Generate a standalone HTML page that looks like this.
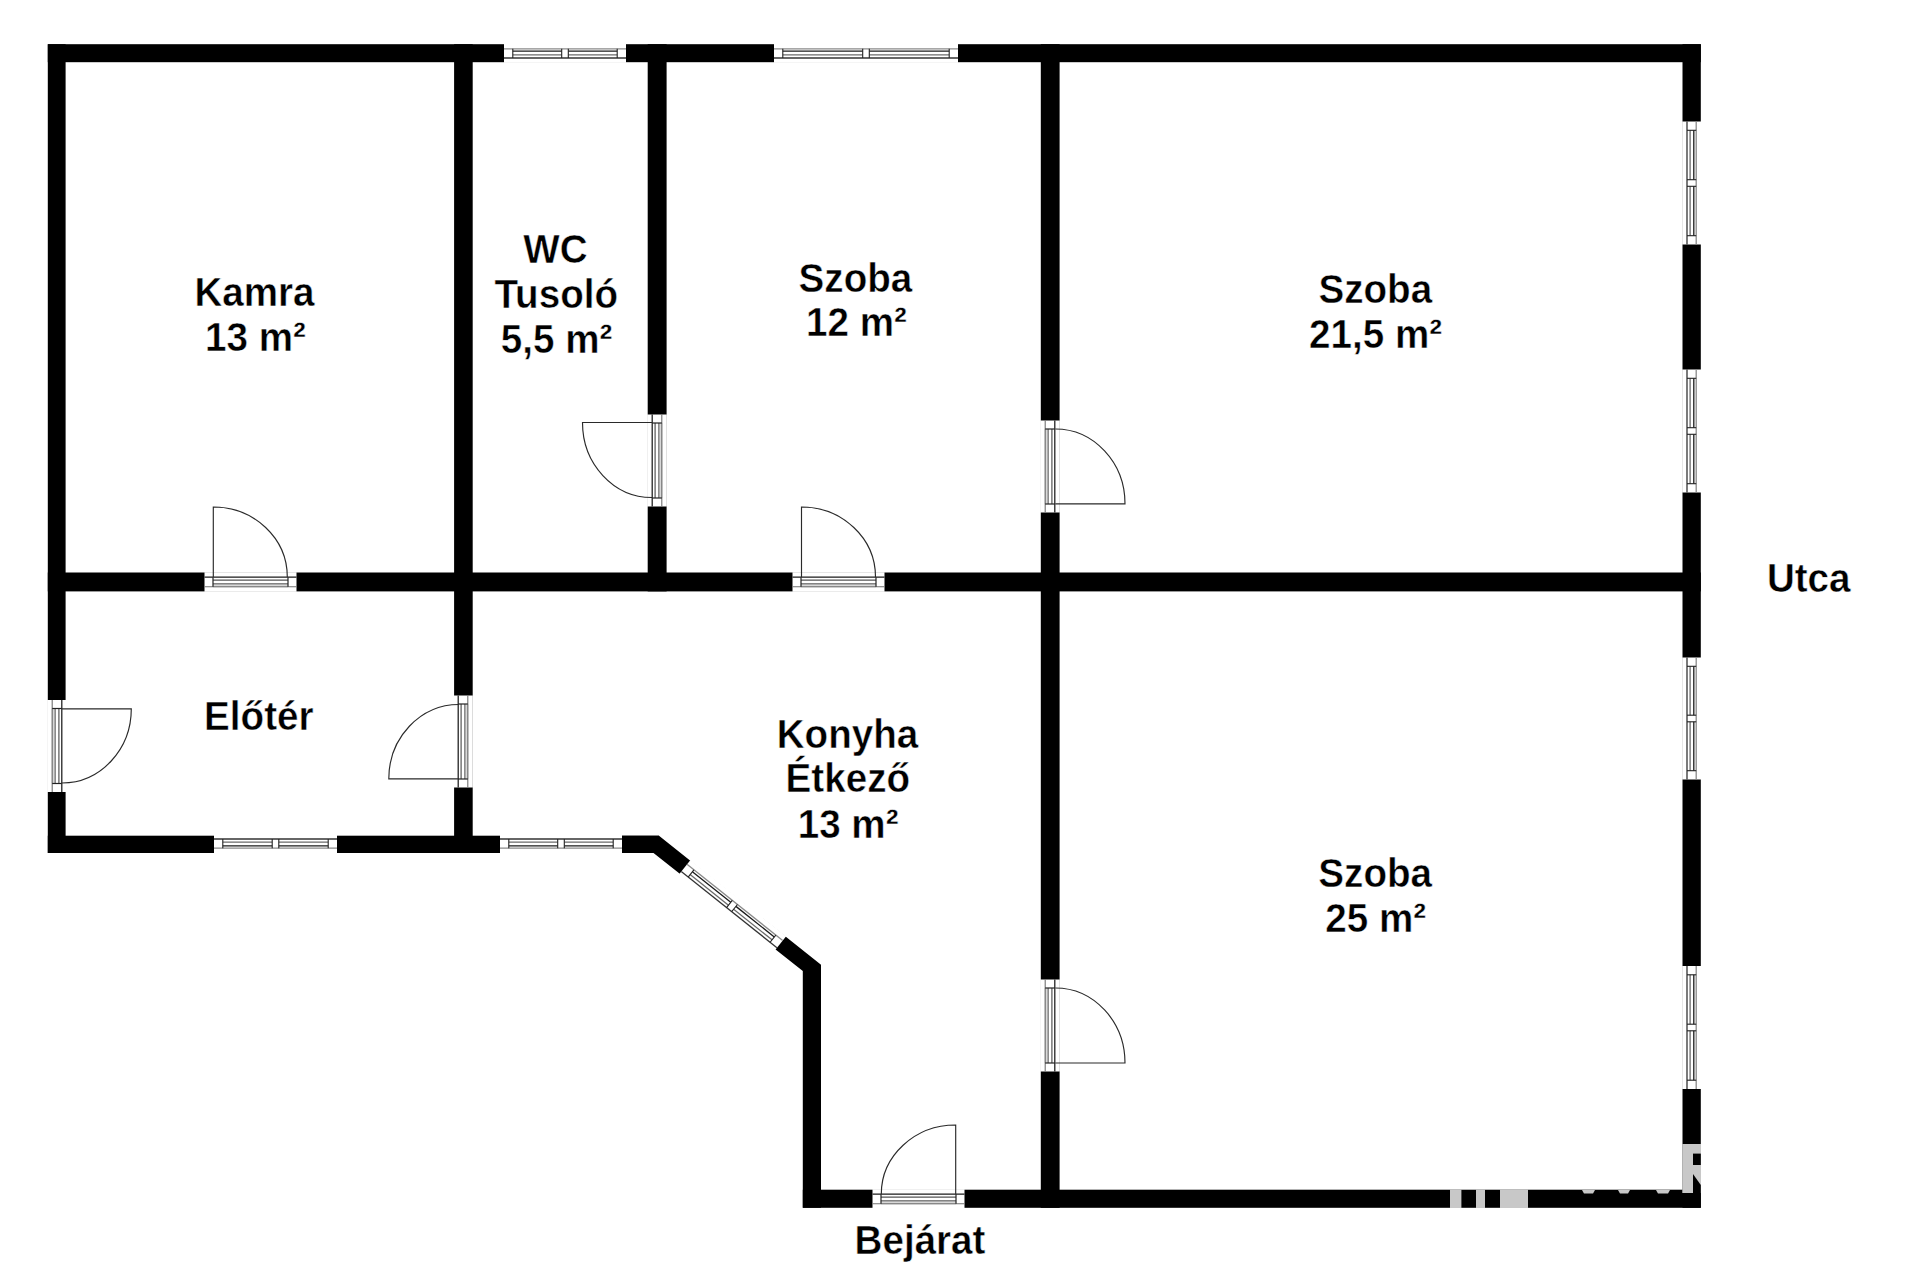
<!DOCTYPE html>
<html><head><meta charset="utf-8"><title>Alaprajz</title>
<style>
html,body{margin:0;padding:0;background:#fff;width:1920px;height:1280px;overflow:hidden}
svg{display:block}
text{font-family:"Liberation Sans",sans-serif;font-weight:bold;font-size:39px;fill:#000;text-anchor:middle;stroke:#fff;stroke-width:0.45px;paint-order:normal}
</style></head><body>
<svg width="1920" height="1280" viewBox="0 0 1920 1280">
<rect width="1920" height="1280" fill="#fff"/>
<rect x="47.8" y="44.2" width="1653" height="18" fill="#000"/><rect x="1682.5" y="44.2" width="18.3" height="1163.6" fill="#000"/><rect x="47.8" y="44.2" width="17.8" height="808.8" fill="#000"/><rect x="47.8" y="835.7" width="611.2" height="17.3" fill="#000"/><polygon points="622,835.7 659,835.7 821,964.8 821,1207.8 802.8,1207.8 802.8,971 653.5,853 622,853" fill="#000"/><rect x="802.8" y="1189.7" width="898" height="18.1" fill="#000"/><rect x="454.1" y="44.2" width="18.6" height="808.8" fill="#000"/><rect x="647.7" y="44.2" width="18.9" height="547.2" fill="#000"/><rect x="1040.8" y="44.2" width="18.8" height="1163.6" fill="#000"/><rect x="47.8" y="572.5" width="1653" height="18.9" fill="#000"/><g transform="matrix(1,0,0,1,504,44)"><rect x="0" y="-0.8" width="122" height="19.6" fill="#fff"/><line x1="0" y1="4.8" x2="122" y2="4.8" stroke="#8a8a8a" stroke-width="1.3"/><line x1="0" y1="14.0" x2="122" y2="14.0" stroke="#333" stroke-width="1.3"/><line x1="8.8" y1="7.2" x2="57.7" y2="7.2" stroke="#1a1a1a" stroke-width="1.3"/><line x1="8.8" y1="10.9" x2="57.7" y2="10.9" stroke="#6a6a6a" stroke-width="1.3"/><line x1="8.8" y1="4.8" x2="8.8" y2="14.0" stroke="#222" stroke-width="1.1"/><line x1="57.7" y1="4.8" x2="57.7" y2="14.0" stroke="#222" stroke-width="1.1"/><line x1="64.3" y1="7.2" x2="113.2" y2="7.2" stroke="#1a1a1a" stroke-width="1.3"/><line x1="64.3" y1="10.9" x2="113.2" y2="10.9" stroke="#6a6a6a" stroke-width="1.3"/><line x1="64.3" y1="4.8" x2="64.3" y2="14.0" stroke="#222" stroke-width="1.1"/><line x1="113.2" y1="4.8" x2="113.2" y2="14.0" stroke="#222" stroke-width="1.1"/></g><g transform="matrix(1,0,0,1,774,44)"><rect x="0" y="-0.8" width="184" height="19.6" fill="#fff"/><line x1="0" y1="4.8" x2="184" y2="4.8" stroke="#8a8a8a" stroke-width="1.3"/><line x1="0" y1="14.0" x2="184" y2="14.0" stroke="#333" stroke-width="1.3"/><line x1="8.8" y1="7.2" x2="88.7" y2="7.2" stroke="#1a1a1a" stroke-width="1.3"/><line x1="8.8" y1="10.9" x2="88.7" y2="10.9" stroke="#6a6a6a" stroke-width="1.3"/><line x1="8.8" y1="4.8" x2="8.8" y2="14.0" stroke="#222" stroke-width="1.1"/><line x1="88.7" y1="4.8" x2="88.7" y2="14.0" stroke="#222" stroke-width="1.1"/><line x1="95.3" y1="7.2" x2="175.2" y2="7.2" stroke="#1a1a1a" stroke-width="1.3"/><line x1="95.3" y1="10.9" x2="175.2" y2="10.9" stroke="#6a6a6a" stroke-width="1.3"/><line x1="95.3" y1="4.8" x2="95.3" y2="14.0" stroke="#222" stroke-width="1.1"/><line x1="175.2" y1="4.8" x2="175.2" y2="14.0" stroke="#222" stroke-width="1.1"/></g><g transform="matrix(1,0,0,-1,214,853)"><rect x="0" y="-0.8" width="123" height="19.6" fill="#fff"/><line x1="0" y1="4.8" x2="123" y2="4.8" stroke="#8a8a8a" stroke-width="1.3"/><line x1="0" y1="14.0" x2="123" y2="14.0" stroke="#333" stroke-width="1.3"/><line x1="8.8" y1="7.2" x2="58.2" y2="7.2" stroke="#1a1a1a" stroke-width="1.3"/><line x1="8.8" y1="10.9" x2="58.2" y2="10.9" stroke="#6a6a6a" stroke-width="1.3"/><line x1="8.8" y1="4.8" x2="8.8" y2="14.0" stroke="#222" stroke-width="1.1"/><line x1="58.2" y1="4.8" x2="58.2" y2="14.0" stroke="#222" stroke-width="1.1"/><line x1="64.8" y1="7.2" x2="114.2" y2="7.2" stroke="#1a1a1a" stroke-width="1.3"/><line x1="64.8" y1="10.9" x2="114.2" y2="10.9" stroke="#6a6a6a" stroke-width="1.3"/><line x1="64.8" y1="4.8" x2="64.8" y2="14.0" stroke="#222" stroke-width="1.1"/><line x1="114.2" y1="4.8" x2="114.2" y2="14.0" stroke="#222" stroke-width="1.1"/></g><g transform="matrix(1,0,0,-1,500,853)"><rect x="0" y="-0.8" width="122" height="19.6" fill="#fff"/><line x1="0" y1="4.8" x2="122" y2="4.8" stroke="#8a8a8a" stroke-width="1.3"/><line x1="0" y1="14.0" x2="122" y2="14.0" stroke="#333" stroke-width="1.3"/><line x1="8.8" y1="7.2" x2="57.7" y2="7.2" stroke="#1a1a1a" stroke-width="1.3"/><line x1="8.8" y1="10.9" x2="57.7" y2="10.9" stroke="#6a6a6a" stroke-width="1.3"/><line x1="8.8" y1="4.8" x2="8.8" y2="14.0" stroke="#222" stroke-width="1.1"/><line x1="57.7" y1="4.8" x2="57.7" y2="14.0" stroke="#222" stroke-width="1.1"/><line x1="64.3" y1="7.2" x2="113.2" y2="7.2" stroke="#1a1a1a" stroke-width="1.3"/><line x1="64.3" y1="10.9" x2="113.2" y2="10.9" stroke="#6a6a6a" stroke-width="1.3"/><line x1="64.3" y1="4.8" x2="64.3" y2="14.0" stroke="#222" stroke-width="1.1"/><line x1="113.2" y1="4.8" x2="113.2" y2="14.0" stroke="#222" stroke-width="1.1"/></g><g transform="matrix(0,1,-1,0,1701,121.5)"><rect x="0" y="-0.8" width="123" height="19.6" fill="#fff"/><line x1="0" y1="4.8" x2="123" y2="4.8" stroke="#8a8a8a" stroke-width="1.3"/><line x1="0" y1="14.0" x2="123" y2="14.0" stroke="#333" stroke-width="1.3"/><line x1="8.8" y1="7.2" x2="58.2" y2="7.2" stroke="#1a1a1a" stroke-width="1.3"/><line x1="8.8" y1="10.9" x2="58.2" y2="10.9" stroke="#6a6a6a" stroke-width="1.3"/><line x1="8.8" y1="4.8" x2="8.8" y2="14.0" stroke="#222" stroke-width="1.1"/><line x1="58.2" y1="4.8" x2="58.2" y2="14.0" stroke="#222" stroke-width="1.1"/><line x1="64.8" y1="7.2" x2="114.2" y2="7.2" stroke="#1a1a1a" stroke-width="1.3"/><line x1="64.8" y1="10.9" x2="114.2" y2="10.9" stroke="#6a6a6a" stroke-width="1.3"/><line x1="64.8" y1="4.8" x2="64.8" y2="14.0" stroke="#222" stroke-width="1.1"/><line x1="114.2" y1="4.8" x2="114.2" y2="14.0" stroke="#222" stroke-width="1.1"/></g><g transform="matrix(0,1,-1,0,1701,369.5)"><rect x="0" y="-0.8" width="123" height="19.6" fill="#fff"/><line x1="0" y1="4.8" x2="123" y2="4.8" stroke="#8a8a8a" stroke-width="1.3"/><line x1="0" y1="14.0" x2="123" y2="14.0" stroke="#333" stroke-width="1.3"/><line x1="8.8" y1="7.2" x2="58.2" y2="7.2" stroke="#1a1a1a" stroke-width="1.3"/><line x1="8.8" y1="10.9" x2="58.2" y2="10.9" stroke="#6a6a6a" stroke-width="1.3"/><line x1="8.8" y1="4.8" x2="8.8" y2="14.0" stroke="#222" stroke-width="1.1"/><line x1="58.2" y1="4.8" x2="58.2" y2="14.0" stroke="#222" stroke-width="1.1"/><line x1="64.8" y1="7.2" x2="114.2" y2="7.2" stroke="#1a1a1a" stroke-width="1.3"/><line x1="64.8" y1="10.9" x2="114.2" y2="10.9" stroke="#6a6a6a" stroke-width="1.3"/><line x1="64.8" y1="4.8" x2="64.8" y2="14.0" stroke="#222" stroke-width="1.1"/><line x1="114.2" y1="4.8" x2="114.2" y2="14.0" stroke="#222" stroke-width="1.1"/></g><g transform="matrix(0,1,-1,0,1701,657.5)"><rect x="0" y="-0.8" width="122" height="19.6" fill="#fff"/><line x1="0" y1="4.8" x2="122" y2="4.8" stroke="#8a8a8a" stroke-width="1.3"/><line x1="0" y1="14.0" x2="122" y2="14.0" stroke="#333" stroke-width="1.3"/><line x1="8.8" y1="7.2" x2="57.7" y2="7.2" stroke="#1a1a1a" stroke-width="1.3"/><line x1="8.8" y1="10.9" x2="57.7" y2="10.9" stroke="#6a6a6a" stroke-width="1.3"/><line x1="8.8" y1="4.8" x2="8.8" y2="14.0" stroke="#222" stroke-width="1.1"/><line x1="57.7" y1="4.8" x2="57.7" y2="14.0" stroke="#222" stroke-width="1.1"/><line x1="64.3" y1="7.2" x2="113.2" y2="7.2" stroke="#1a1a1a" stroke-width="1.3"/><line x1="64.3" y1="10.9" x2="113.2" y2="10.9" stroke="#6a6a6a" stroke-width="1.3"/><line x1="64.3" y1="4.8" x2="64.3" y2="14.0" stroke="#222" stroke-width="1.1"/><line x1="113.2" y1="4.8" x2="113.2" y2="14.0" stroke="#222" stroke-width="1.1"/></g><g transform="matrix(0,1,-1,0,1701,966)"><rect x="0" y="-0.8" width="123" height="19.6" fill="#fff"/><line x1="0" y1="4.8" x2="123" y2="4.8" stroke="#8a8a8a" stroke-width="1.3"/><line x1="0" y1="14.0" x2="123" y2="14.0" stroke="#333" stroke-width="1.3"/><line x1="8.8" y1="7.2" x2="58.2" y2="7.2" stroke="#1a1a1a" stroke-width="1.3"/><line x1="8.8" y1="10.9" x2="58.2" y2="10.9" stroke="#6a6a6a" stroke-width="1.3"/><line x1="8.8" y1="4.8" x2="8.8" y2="14.0" stroke="#222" stroke-width="1.1"/><line x1="58.2" y1="4.8" x2="58.2" y2="14.0" stroke="#222" stroke-width="1.1"/><line x1="64.8" y1="7.2" x2="114.2" y2="7.2" stroke="#1a1a1a" stroke-width="1.3"/><line x1="64.8" y1="10.9" x2="114.2" y2="10.9" stroke="#6a6a6a" stroke-width="1.3"/><line x1="64.8" y1="4.8" x2="64.8" y2="14.0" stroke="#222" stroke-width="1.1"/><line x1="114.2" y1="4.8" x2="114.2" y2="14.0" stroke="#222" stroke-width="1.1"/></g><g transform="matrix(0.78228,0.622927,-0.622927,0.78228,690,860.6)"><rect x="0" y="-0.8" width="122.3" height="18.6" fill="#fff"/><line x1="0" y1="4.8" x2="122.3" y2="4.8" stroke="#8a8a8a" stroke-width="1.3"/><line x1="0" y1="14.0" x2="122.3" y2="14.0" stroke="#333" stroke-width="1.3"/><line x1="8.8" y1="7.2" x2="57.85" y2="7.2" stroke="#1a1a1a" stroke-width="1.3"/><line x1="8.8" y1="10.9" x2="57.85" y2="10.9" stroke="#6a6a6a" stroke-width="1.3"/><line x1="8.8" y1="4.8" x2="8.8" y2="14.0" stroke="#222" stroke-width="1.1"/><line x1="57.85" y1="4.8" x2="57.85" y2="14.0" stroke="#222" stroke-width="1.1"/><line x1="64.45" y1="7.2" x2="113.5" y2="7.2" stroke="#1a1a1a" stroke-width="1.3"/><line x1="64.45" y1="10.9" x2="113.5" y2="10.9" stroke="#6a6a6a" stroke-width="1.3"/><line x1="64.45" y1="4.8" x2="64.45" y2="14.0" stroke="#222" stroke-width="1.1"/><line x1="113.5" y1="4.8" x2="113.5" y2="14.0" stroke="#222" stroke-width="1.1"/></g><g transform="matrix(1,0,0,1,204.5,573)"><rect x="0" y="-0.8" width="92" height="19.6" fill="#fff"/><rect x="8.5" y="12.2" width="75" height="2.2" fill="#cfcfcf"/><line x1="0" y1="4.2" x2="92" y2="4.2" stroke="#1a1a1a" stroke-width="1.25"/><line x1="0" y1="13.8" x2="92" y2="13.8" stroke="#707070" stroke-width="1.1"/><line x1="8.5" y1="7.1" x2="83.5" y2="7.1" stroke="#555" stroke-width="1.2"/><line x1="8.5" y1="10.9" x2="83.5" y2="10.9" stroke="#5a5a5a" stroke-width="1.2"/><line x1="8.5" y1="4.2" x2="8.5" y2="13.8" stroke="#222" stroke-width="1.2"/><line x1="83.5" y1="4.2" x2="83.5" y2="13.8" stroke="#222" stroke-width="1.2"/></g><g transform="matrix(1,0,0,1,792.5,573)"><rect x="0" y="-0.8" width="92" height="19.6" fill="#fff"/><rect x="8.5" y="12.2" width="75" height="2.2" fill="#cfcfcf"/><line x1="0" y1="4.2" x2="92" y2="4.2" stroke="#1a1a1a" stroke-width="1.25"/><line x1="0" y1="13.8" x2="92" y2="13.8" stroke="#707070" stroke-width="1.1"/><line x1="8.5" y1="7.1" x2="83.5" y2="7.1" stroke="#555" stroke-width="1.2"/><line x1="8.5" y1="10.9" x2="83.5" y2="10.9" stroke="#5a5a5a" stroke-width="1.2"/><line x1="8.5" y1="4.2" x2="8.5" y2="13.8" stroke="#222" stroke-width="1.2"/><line x1="83.5" y1="4.2" x2="83.5" y2="13.8" stroke="#222" stroke-width="1.2"/></g><g transform="matrix(1,0,0,1,872.5,1190)"><rect x="0" y="-0.8" width="92" height="19.6" fill="#fff"/><rect x="8.5" y="12.2" width="75" height="2.2" fill="#cfcfcf"/><line x1="0" y1="4.2" x2="92" y2="4.2" stroke="#1a1a1a" stroke-width="1.25"/><line x1="0" y1="13.8" x2="92" y2="13.8" stroke="#707070" stroke-width="1.1"/><line x1="8.5" y1="7.1" x2="83.5" y2="7.1" stroke="#555" stroke-width="1.2"/><line x1="8.5" y1="10.9" x2="83.5" y2="10.9" stroke="#5a5a5a" stroke-width="1.2"/><line x1="8.5" y1="4.2" x2="8.5" y2="13.8" stroke="#222" stroke-width="1.2"/><line x1="83.5" y1="4.2" x2="83.5" y2="13.8" stroke="#222" stroke-width="1.2"/></g><g transform="matrix(0,1,1,0,648,414.5)"><rect x="0" y="-0.8" width="92" height="19.6" fill="#fff"/><rect x="8.5" y="12.2" width="75" height="2.2" fill="#cfcfcf"/><line x1="0" y1="4.2" x2="92" y2="4.2" stroke="#1a1a1a" stroke-width="1.25"/><line x1="0" y1="13.8" x2="92" y2="13.8" stroke="#707070" stroke-width="1.1"/><line x1="8.5" y1="7.1" x2="83.5" y2="7.1" stroke="#555" stroke-width="1.2"/><line x1="8.5" y1="10.9" x2="83.5" y2="10.9" stroke="#5a5a5a" stroke-width="1.2"/><line x1="8.5" y1="4.2" x2="8.5" y2="13.8" stroke="#222" stroke-width="1.2"/><line x1="83.5" y1="4.2" x2="83.5" y2="13.8" stroke="#222" stroke-width="1.2"/></g><g transform="matrix(0,1,-1,0,1059,420.5)"><rect x="0" y="-0.8" width="92" height="19.6" fill="#fff"/><rect x="8.5" y="12.2" width="75" height="2.2" fill="#cfcfcf"/><line x1="0" y1="4.2" x2="92" y2="4.2" stroke="#1a1a1a" stroke-width="1.25"/><line x1="0" y1="13.8" x2="92" y2="13.8" stroke="#707070" stroke-width="1.1"/><line x1="8.5" y1="7.1" x2="83.5" y2="7.1" stroke="#555" stroke-width="1.2"/><line x1="8.5" y1="10.9" x2="83.5" y2="10.9" stroke="#5a5a5a" stroke-width="1.2"/><line x1="8.5" y1="4.2" x2="8.5" y2="13.8" stroke="#222" stroke-width="1.2"/><line x1="83.5" y1="4.2" x2="83.5" y2="13.8" stroke="#222" stroke-width="1.2"/></g><g transform="matrix(0,1,-1,0,66,700)"><rect x="0" y="-0.8" width="92" height="19.6" fill="#fff"/><rect x="8.5" y="12.2" width="75" height="2.2" fill="#cfcfcf"/><line x1="0" y1="4.2" x2="92" y2="4.2" stroke="#1a1a1a" stroke-width="1.25"/><line x1="0" y1="13.8" x2="92" y2="13.8" stroke="#707070" stroke-width="1.1"/><line x1="8.5" y1="7.1" x2="83.5" y2="7.1" stroke="#555" stroke-width="1.2"/><line x1="8.5" y1="10.9" x2="83.5" y2="10.9" stroke="#5a5a5a" stroke-width="1.2"/><line x1="8.5" y1="4.2" x2="8.5" y2="13.8" stroke="#222" stroke-width="1.2"/><line x1="83.5" y1="4.2" x2="83.5" y2="13.8" stroke="#222" stroke-width="1.2"/></g><g transform="matrix(0,1,1,0,454,695.5)"><rect x="0" y="-0.8" width="92" height="19.6" fill="#fff"/><rect x="8.5" y="12.2" width="75" height="2.2" fill="#cfcfcf"/><line x1="0" y1="4.2" x2="92" y2="4.2" stroke="#1a1a1a" stroke-width="1.25"/><line x1="0" y1="13.8" x2="92" y2="13.8" stroke="#707070" stroke-width="1.1"/><line x1="8.5" y1="7.1" x2="83.5" y2="7.1" stroke="#555" stroke-width="1.2"/><line x1="8.5" y1="10.9" x2="83.5" y2="10.9" stroke="#5a5a5a" stroke-width="1.2"/><line x1="8.5" y1="4.2" x2="8.5" y2="13.8" stroke="#222" stroke-width="1.2"/><line x1="83.5" y1="4.2" x2="83.5" y2="13.8" stroke="#222" stroke-width="1.2"/></g><g transform="matrix(0,1,-1,0,1059,979.5)"><rect x="0" y="-0.8" width="92" height="19.6" fill="#fff"/><rect x="8.5" y="12.2" width="75" height="2.2" fill="#cfcfcf"/><line x1="0" y1="4.2" x2="92" y2="4.2" stroke="#1a1a1a" stroke-width="1.25"/><line x1="0" y1="13.8" x2="92" y2="13.8" stroke="#707070" stroke-width="1.1"/><line x1="8.5" y1="7.1" x2="83.5" y2="7.1" stroke="#555" stroke-width="1.2"/><line x1="8.5" y1="10.9" x2="83.5" y2="10.9" stroke="#5a5a5a" stroke-width="1.2"/><line x1="8.5" y1="4.2" x2="8.5" y2="13.8" stroke="#222" stroke-width="1.2"/><line x1="83.5" y1="4.2" x2="83.5" y2="13.8" stroke="#222" stroke-width="1.2"/></g><path d="M213.3 577 L213.3 507 A74 70 0 0 1 287.3 577" fill="none" stroke="#2a2a2a" stroke-width="1.15"/><path d="M801.5 577 L801.5 507 A74 70 0 0 1 875.5 577" fill="none" stroke="#2a2a2a" stroke-width="1.15"/><path d="M955.7 1194 L955.7 1125 A74.4 69 0 0 0 881.3 1194" fill="none" stroke="#2a2a2a" stroke-width="1.15"/><path d="M652 422.5 L582.5 422.5 A69.5 75 0 0 0 652 497.5" fill="none" stroke="#2a2a2a" stroke-width="1.15"/><path d="M1055.3 503.8 L1125 503.8 A69.7 74.8 0 0 0 1055.3 429" fill="none" stroke="#2a2a2a" stroke-width="1.15"/><path d="M62 708.8 L131.3 708.8 A69.3 74.2 0 0 1 62 783" fill="none" stroke="#2a2a2a" stroke-width="1.15"/><path d="M459 778.8 L388.8 778.8 A70.2 74.3 0 0 1 459 704.5" fill="none" stroke="#2a2a2a" stroke-width="1.15"/><path d="M1055.3 1063 L1125 1063 A69.7 75 0 0 0 1055.3 988" fill="none" stroke="#2a2a2a" stroke-width="1.15"/><rect x="1450" y="1189.5" width="11.4" height="18.5" fill="#c8c8c8"/><rect x="1476" y="1189.5" width="9" height="18.5" fill="#c8c8c8"/><rect x="1500" y="1189.5" width="28" height="18.5" fill="#c8c8c8"/><rect x="1682.3" y="1144" width="18.7" height="49" fill="#c8c8c8"/><rect x="1693" y="1153.6" width="7.8" height="11.4" fill="#000"/><polygon points="1693,1174 1700.8,1185 1700.8,1193 1693,1193" fill="#000"/><polygon points="1582,1190 1595,1190 1593,1193.5 1584,1193.5" fill="#c8c8c8"/><polygon points="1618,1190 1630,1190 1628,1193.5 1620,1193.5" fill="#c8c8c8"/><polygon points="1656,1190 1670,1190 1668,1193.5 1658,1193.5" fill="#c8c8c8"/>
<g><text transform="translate(254.5,306.1) scale(0.99,1.05)">Kamra</text><text transform="translate(255.4,351.1) scale(0.99,1.05)">13 m²</text><text transform="translate(555.5,262.7) scale(0.99,1.05)">WC</text><text transform="translate(556.2,308) scale(0.99,1.05)">Tusoló</text><text transform="translate(556.6,353.3) scale(0.99,1.05)">5,5 m²</text><text transform="translate(855.45,291.55) scale(0.99,1.05)">Szoba</text><text transform="translate(856.5,336.1) scale(0.99,1.05)">12 m²</text><text transform="translate(1375.3,302.8) scale(0.99,1.05)">Szoba</text><text transform="translate(1375.6,347.5) scale(0.99,1.05)">21,5 m²</text><text transform="translate(258.8,730.4) scale(0.99,1.05)">Előtér</text><text transform="translate(847.5,748) scale(0.99,1.05)">Konyha</text><text transform="translate(847.8,792.3) scale(0.99,1.05)">Étkező</text><text transform="translate(848.1,837.7) scale(0.99,1.05)">13 m²</text><text transform="translate(1375.2,887.1) scale(0.99,1.05)">Szoba</text><text transform="translate(1375.7,931.8) scale(0.99,1.05)">25 m²</text><text transform="translate(1808.7,591.9) scale(0.99,1.05)">Utca</text><text transform="translate(920,1254.05) scale(0.99,1.05)">Bejárat</text></g>
</svg>
</body></html>
